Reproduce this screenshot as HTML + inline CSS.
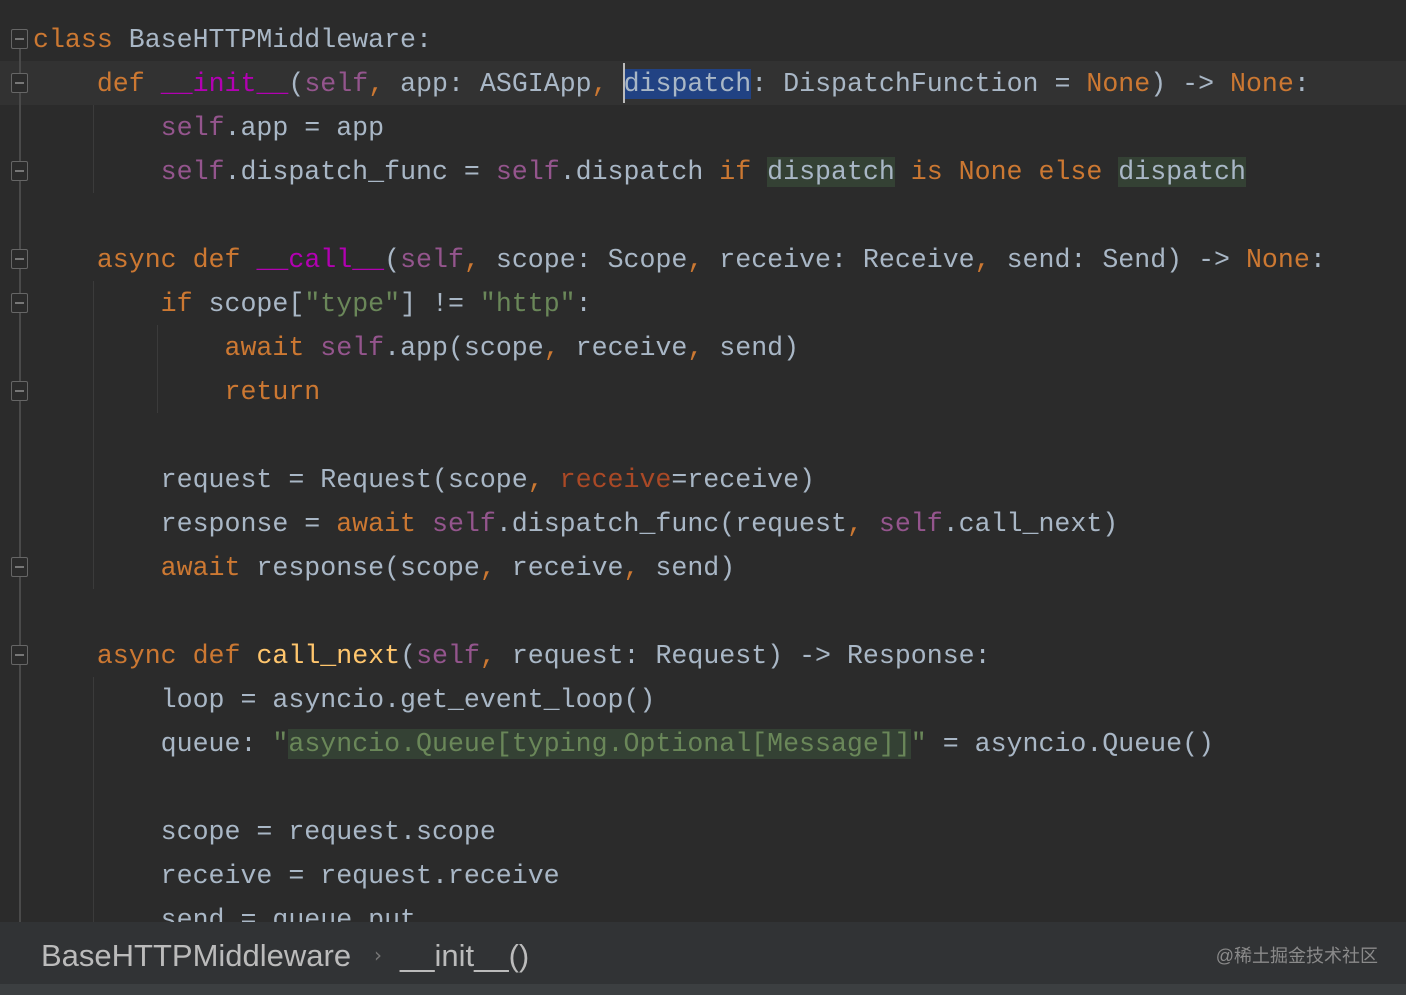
<!DOCTYPE html>
<html><head><meta charset="utf-8"><style>
html,body{margin:0;padding:0;}
body{width:1406px;height:995px;background:#2b2b2b;position:relative;overflow:hidden;font-family:"Liberation Mono","DejaVu Sans Mono",monospace;}
.l{position:absolute;left:33px;height:44px;line-height:44px;font-size:26.6px;white-space:pre;color:#a9b7c6;margin-top:1px;}
.k{color:#cc7832}.s{color:#94558d}.m{color:#b200b2}.g{color:#6a8759}.f{color:#ffc66d}.p{color:#aa4926}
.h{background:#344134}.sel{background:#214283}
.guide{position:absolute;width:1px;background:#3b3b3b;}
.fold{position:absolute;left:11px;width:17px;height:20px;border:1.5px solid #666;border-radius:2px;box-sizing:border-box;background:#2b2b2b;}
.fold:after{content:"";position:absolute;left:3px;right:3px;top:8px;height:1.5px;background:#777;}
</style></head><body>
<div style="position:absolute;left:0;top:61px;width:1406px;height:44px;background:#323232"></div>
<div style="position:absolute;left:19px;top:30px;width:2px;height:892px;background:#4a4a4a"></div>
<div class="guide" style="left:93px;top:105px;height:88px"></div>
<div class="guide" style="left:93px;top:281px;height:308px"></div>
<div class="guide" style="left:157px;top:325px;height:88px"></div>
<div class="guide" style="left:93px;top:677px;height:245px"></div>
<div class="fold" style="top:29px"></div>
<div class="fold" style="top:73px"></div>
<div class="fold" style="top:161px"></div>
<div class="fold" style="top:249px"></div>
<div class="fold" style="top:293px"></div>
<div class="fold" style="top:381px"></div>
<div class="fold" style="top:557px"></div>
<div class="fold" style="top:645px"></div>

<div class="l" style="top:17px"><span class="k">class</span> BaseHTTPMiddleware:</div>
<div class="l" style="top:61px">    <span class="k">def</span> <span class="m">__init__</span>(<span class="s">self</span><span class="k">,</span> app: ASGIApp<span class="k">,</span> <span class="sel">dispatch</span>: DispatchFunction = <span class="k">None</span>) -&gt; <span class="k">None</span>:</div>
<div style="position:absolute;left:623px;top:63px;width:2px;height:40px;background:#bbb"></div>
<div class="l" style="top:105px">        <span class="s">self</span>.app = app</div>
<div class="l" style="top:149px">        <span class="s">self</span>.dispatch_func = <span class="s">self</span>.dispatch <span class="k">if</span> <span class="h">dispatch</span> <span class="k">is None else</span> <span class="h">dispatch</span></div>
<div class="l" style="top:237px">    <span class="k">async def</span> <span class="m">__call__</span>(<span class="s">self</span><span class="k">,</span> scope: Scope<span class="k">,</span> receive: Receive<span class="k">,</span> send: Send) -&gt; <span class="k">None</span>:</div>
<div class="l" style="top:281px">        <span class="k">if</span> scope[<span class="g">"type"</span>] != <span class="g">"http"</span>:</div>
<div class="l" style="top:325px">            <span class="k">await</span> <span class="s">self</span>.app(scope<span class="k">,</span> receive<span class="k">,</span> send)</div>
<div class="l" style="top:369px">            <span class="k">return</span></div>
<div class="l" style="top:457px">        request = Request(scope<span class="k">,</span> <span class="p">receive</span>=receive)</div>
<div class="l" style="top:501px">        response = <span class="k">await</span> <span class="s">self</span>.dispatch_func(request<span class="k">,</span> <span class="s">self</span>.call_next)</div>
<div class="l" style="top:545px">        <span class="k">await</span> response(scope<span class="k">,</span> receive<span class="k">,</span> send)</div>
<div class="l" style="top:633px">    <span class="k">async def</span> <span class="f">call_next</span>(<span class="s">self</span><span class="k">,</span> request: Request) -&gt; Response:</div>
<div class="l" style="top:677px">        loop = asyncio.get_event_loop()</div>
<div class="l" style="top:721px">        queue: <span class="g">"</span><span class="h"><span class="g">asyncio.Queue[typing.Optional[Message]]</span></span><span class="g">"</span> = asyncio.Queue()</div>
<div class="l" style="top:809px">        scope = request.scope</div>
<div class="l" style="top:853px">        receive = request.receive</div>
<div class="l" style="top:897px">        send = queue.put</div>

<div style="position:absolute;left:0;top:922px;width:1406px;height:62px;background:#313335"></div>
<div style="position:absolute;left:0;top:984px;width:1406px;height:11px;background:#3c3f41"></div>
<div style="position:absolute;left:41px;top:935px;font-family:'Liberation Sans','DejaVu Sans',sans-serif;font-size:31px;color:#bbbbbb;white-space:pre;line-height:42px">BaseHTTPMiddleware</div>
<div style="position:absolute;left:374px;top:934px;font-family:'DejaVu Sans',sans-serif;font-size:20px;color:#777;line-height:42px">›</div>
<div style="position:absolute;left:400px;top:935px;font-family:'Liberation Sans','DejaVu Sans',sans-serif;font-size:31px;color:#bbbbbb;white-space:pre;line-height:42px">__init__()</div>
<div style="position:absolute;right:28px;top:944px;font-family:'Liberation Sans','Noto Sans CJK SC',sans-serif;font-size:18px;color:#8a8a8a;line-height:24px">@稀土掘金技术社区</div>
</body></html>
